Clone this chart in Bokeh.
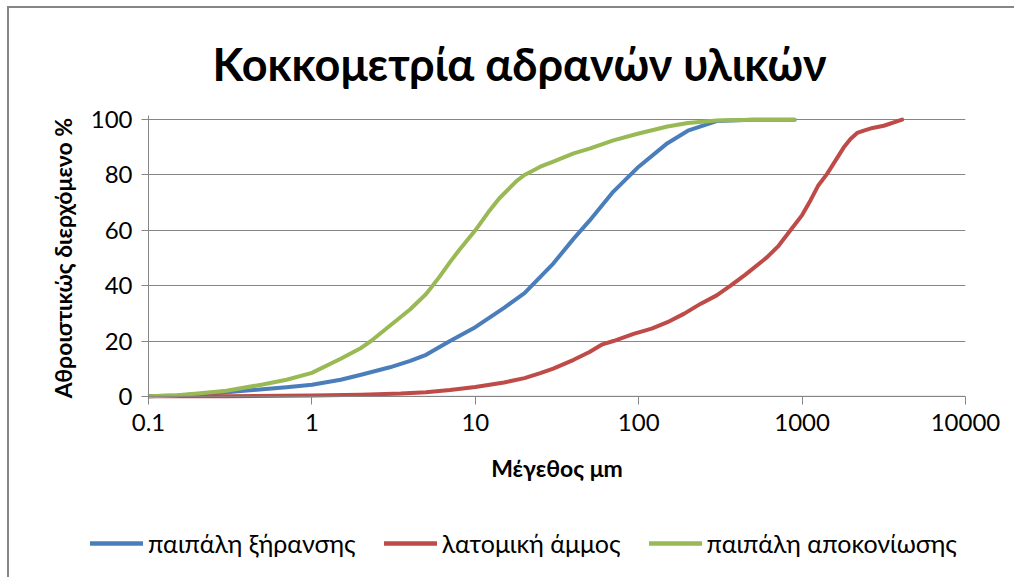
from bokeh.plotting import figure
from bokeh.layouts import column
from bokeh.models import Range1d, FixedTicker, Legend, LegendItem, Title, Span
from bokeh.embed import file_html
from bokeh.resources import INLINE

TITLE = "Κοκκομετρία αδρανών υλικών"
X_LABEL = "Μέγεθος μm"
Y_LABEL = "Αθροιστικώς διερχόμενο %"

x_ticks = [0.1, 1, 10, 100, 1000, 10000]
x_tick_labels = ["0.1", "1", "10", "100", "1000", "10000"]
y_ticks = [0, 20, 40, 60, 80, 100]

blue_name = "παιπάλη ξήρανσης"
blue_x = [0.1, 0.15, 0.2, 0.3, 0.5, 0.7, 1, 1.5, 2, 3, 4, 5, 7, 10, 15, 20, 30, 40, 50, 70, 100, 150, 200, 300, 500, 900]
blue_y = [0, 0.3, 0.8, 1.5, 2.6, 3.3, 4.2, 6, 7.8, 10.5, 12.8, 15, 20, 25, 32, 37.3, 48, 57, 63.5, 74, 83, 91.5, 96, 99.5, 100, 100]

red_name = "λατομική άμμος"
red_x = [0.1, 0.3, 1, 2, 3.5, 5, 7, 10, 15, 20, 25, 30, 40, 50, 60, 70, 93, 120, 150, 190, 240, 300, 365, 450, 611, 720, 849, 1000, 1125, 1250, 1422, 1800, 1977, 2173, 2388, 2700, 3162, 4093]
red_y = [0, 0.05, 0.3, 0.6, 1, 1.5, 2.3, 3.4, 5, 6.6, 8.4, 10, 13.2, 16, 18.8, 20, 22.6, 24.5, 26.8, 29.9, 33.5, 36.5, 40, 44, 50.3, 54.5, 60, 65.5, 70.8, 76, 80.4, 90, 93, 95.2, 96, 97, 97.8, 100]

green_name = "παιπάλη αποκονίωσης"
green_x = [0.1, 0.15, 0.2, 0.3, 0.5, 0.7, 1, 1.5, 2, 2.3, 3, 4, 5, 6, 7, 8, 10, 12, 14, 17, 18, 20, 22, 25, 30, 40, 50, 70, 100, 150, 200, 300, 500, 900]
green_y = [0, 0.4, 1, 2, 4.3, 6, 8.5, 13.6, 17.5, 20, 25.5, 31.5, 37, 43, 48.5, 53, 60, 66.5, 71.5, 76.5, 78, 80, 81.3, 83, 84.8, 87.8, 89.5, 92.5, 95, 97.5, 98.8, 99.7, 100, 100]

FONT = "Lato"
GRID = "#868686"
COLORS = ["#4A7EBB", "#BE4B48", "#98B954"]
BORDER = "2px solid #868686"

p = figure(width=1007, height=491, x_axis_type="log",
           x_range=Range1d(0.1, 10000), y_range=Range1d(-1.5, 101.5),
           output_backend="svg", toolbar_location=None,
           min_border_left=139, min_border_right=51,
           min_border_top=107, min_border_bottom=99)
p.styles = {"border-top": BORDER, "border-left": BORDER}
p.margin = (6, 0, 0, 7)
p.outline_line_color = None
p.background_fill_color = "white"
p.border_fill_color = "white"

p.title = Title(text=TITLE, align="left", offset=64, standoff=50,
                text_font=FONT, text_font_size="45px", text_font_style="bold",
                text_color="black")

p.xgrid.visible = False
p.ygrid.ticker = FixedTicker(ticks=y_ticks)
p.ygrid.grid_line_color = GRID
p.ygrid.grid_line_width = 1

p.xaxis.ticker = FixedTicker(ticks=x_ticks, minor_ticks=[])
p.xaxis.major_label_overrides = {t: l for t, l in zip(x_ticks, x_tick_labels)}
p.yaxis.ticker = FixedTicker(ticks=y_ticks, minor_ticks=[])

for ax in (p.xaxis[0], p.yaxis[0]):
    ax.axis_line_color = GRID
    ax.axis_line_width = 1
    ax.major_tick_line_color = GRID
    ax.minor_tick_line_color = None
    ax.major_label_text_font = FONT
    ax.major_label_text_font_size = "24px"
    ax.major_label_text_color = "black"
    ax.major_label_standoff = 9
    ax.axis_label_text_font = FONT
    ax.axis_label_text_font_size = "23px"
    ax.axis_label_text_font_style = "bold"
    ax.axis_label_text_color = "black"

p.yaxis.major_tick_in = 0
p.yaxis.major_tick_out = 7
p.yaxis.axis_label = Y_LABEL
p.yaxis.axis_label_standoff = 11

p.xaxis.axis_line_color = None
p.xaxis.major_tick_in = 4
p.xaxis.major_tick_out = 4
p.xaxis.axis_label = X_LABEL
p.xaxis.axis_label_standoff = 20
p.add_layout(Span(location=0, dimension="width", line_color=GRID, line_width=1))

series = [(blue_name, blue_x, blue_y), (red_name, red_x, red_y), (green_name, green_x, green_y)]
for (name, xs, ys), c in zip(series, COLORS):
    p.line(xs, ys, line_color=c, line_width=4, line_cap="round", line_join="round")

# legend strip below the chart (its data lie outside its ranges, only the legend shows)
q = figure(width=1007, height=80, x_range=Range1d(0, 1), y_range=Range1d(1000, 1001),
           output_backend="svg", toolbar_location=None,
           min_border_left=0, min_border_right=0, min_border_top=0, min_border_bottom=0)
q.styles = {"border-left": BORDER}
q.margin = (0, 0, 0, 7)
for fig in (p, q):
    try:
        fig.frame_align = False
    except Exception:
        pass
q.axis.visible = False
q.grid.visible = False
q.outline_line_color = None
q.border_fill_color = "white"
items = []
for (name, xs, ys), c in zip(series, COLORS):
    r = q.line(xs, ys, line_color=c, line_width=4.5, line_cap="round")
    items.append(LegendItem(label=name, renderers=[r]))
legend = Legend(items=items, orientation="horizontal", location=(81, 19),
                glyph_width=53, glyph_height=20, label_standoff=5, spacing=28,
                padding=0, margin=0, border_line_color=None, background_fill_alpha=0,
                label_text_font=FONT, label_text_font_size="25px", label_text_color="black")
q.add_layout(legend)

layout = column(p, q, spacing=0)

with open("out.html", "w", encoding="utf-8") as f:
    f.write(file_html(layout, INLINE))
